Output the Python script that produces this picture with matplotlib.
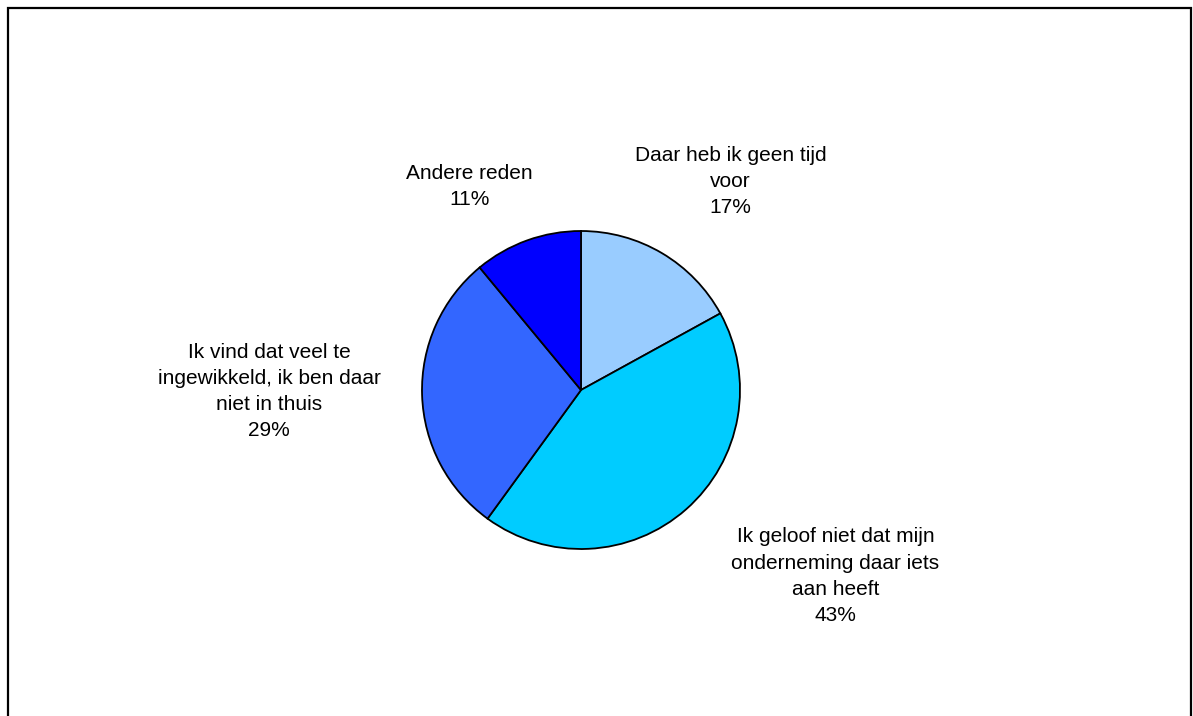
import matplotlib
matplotlib.use("Agg")
import matplotlib.pyplot as plt
from matplotlib.lines import Line2D

# Survey answers: why no participation
categories = [
    "Daar heb ik geen tijd\nvoor",
    "Ik geloof niet dat mijn\nonderneming daar iets\naan heeft",
    "Ik vind dat veel te\ningewikkeld, ik ben daar\nniet in thuis",
    "Andere reden",
]
shares = [17, 43, 29, 11]
colors = ["#99CCFF", "#00CCFF", "#3366FF", "#0000FF"]
# label anchor points, in units of the pie radius
label_pos = [(0.94, 1.31), (1.60, -1.17), (-1.96, -0.01), (-0.70, 1.28)]

W, H, DPI = 1193, 716, 100
cx, cy, r = 581, 390, 159  # pie centre and radius in pixels (from top-left)

plt.rcParams["font.family"] = ["Liberation Sans", "DejaVu Sans"]
fig = plt.figure(figsize=(W / DPI, H / DPI), dpi=DPI)
ax = fig.add_axes([0, 0, 1, 1])

ax.pie(shares, colors=colors, startangle=90, counterclock=False, radius=1,
       wedgeprops=dict(edgecolor="black", linewidth=1.3))

ax.set_aspect("equal")
ax.set_xlim(-cx / r, (W - cx) / r)
ax.set_ylim(-(H - cy) / r, cy / r)
ax.axis("off")

for cat, val, (lx, ly) in zip(categories, shares, label_pos):
    ax.text(lx, ly, f"{cat}\n{val}%", ha="center", va="center",
            fontsize=15, linespacing=1.47, color="black")

# outer frame (open at the bottom edge)
fx = [8 / W, 8 / W, 1191 / W, 1191 / W]
fy = [0, 1 - 8 / H, 1 - 8 / H, 0]
fig.add_artist(Line2D(fx, fy, transform=fig.transFigure, color="black",
                      linewidth=1.6, solid_joinstyle="miter"))

fig.savefig("out.png", dpi=DPI)
